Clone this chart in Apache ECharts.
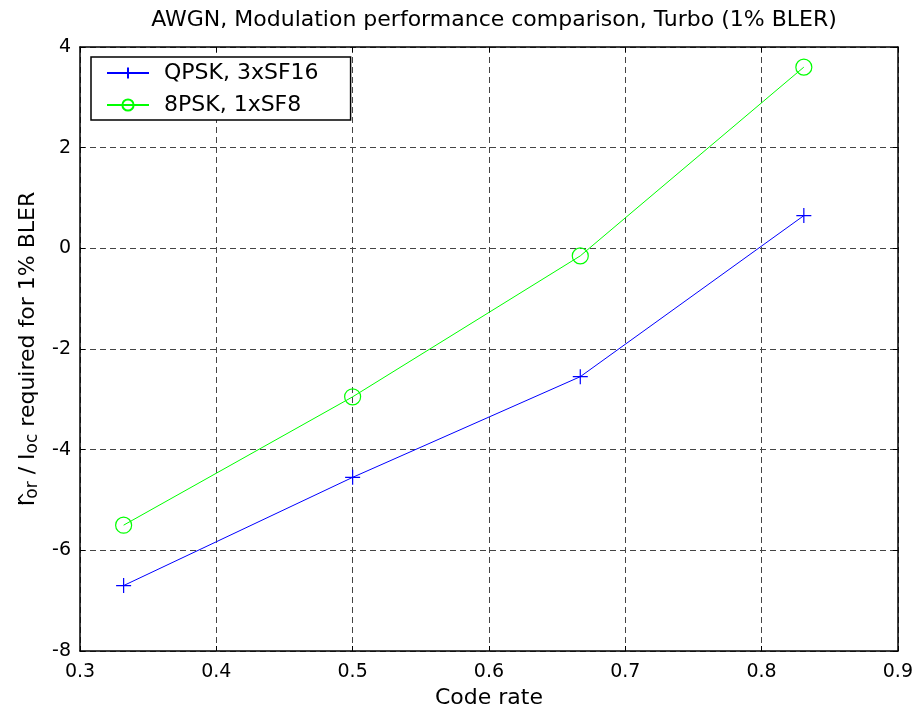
<!DOCTYPE html>
<html>
<head>
<meta charset="utf-8">
<script src="https://cdn.jsdelivr.net/npm/echarts@6/dist/echarts.min.js"></script>
<style>html,body{margin:0;padding:0;background:#fff;}#c{width:916px;height:715px;}</style>
</head>
<body>
<div id="c"></div>
<script>
var titleText = 'AWGN, Modulation performance comparison, Turbo (1% BLER)';
var xName = 'Code rate';
var seriesNames = ['QPSK, 3xSF16', '8PSK, 1xSF8'];
var codeRates = [0.332, 0.5, 0.667, 0.831];
var qpsk = [-6.7, -4.55, -2.55, 0.65];
var psk8 = [-5.5, -2.95, -0.15, 3.6];
var xMin = 0.3, xMax = 0.9, xStep = 0.1;
var yMin = -8, yMax = 4, yStep = 2;

function pairs(xs, ys) { return xs.map(function (x, i) { return [x, ys[i]]; }); }

var FONT = '"DejaVu Sans", "Liberation Sans", Arial, sans-serif';
var plusPath = 'path://M0,5L10,5M5,0L5,10';
var chart = echarts.init(document.getElementById('c'), null, { renderer: 'canvas' });
var gridLine = { show: true, lineStyle: { color: '#444', type: [6, 4], width: 1 } };
var boxLine = { show: true, onZero: false, lineStyle: { color: '#000', width: 1.5 } };
var tick = { show: true, inside: true, length: 5, lineStyle: { color: '#000' } };
chart.setOption({
  animation: false,
  backgroundColor: '#fff',
  title: {
    text: titleText, left: 489, textAlign: 'center', top: 4,
    textStyle: { fontFamily: FONT, fontSize: 22, fontWeight: 'normal', color: '#000' }
  },
  grid: { left: 80, right: 18, top: 47, bottom: 64, containLabel: false },
  legend: {
    orient: 'vertical', left: 91, top: 57,
    data: seriesNames,
    itemWidth: 42, itemHeight: 14, itemGap: 10,
    padding: [5, 32, 4, 15],
    backgroundColor: '#fff', borderColor: '#000', borderWidth: 1.5,
    textStyle: { fontFamily: FONT, fontSize: 22, lineHeight: 22, color: '#000', padding: [0, 0, 0, 10] }
  },
  xAxis: [{
    type: 'value', min: xMin, max: xMax, interval: xStep,
    name: xName, nameLocation: 'middle', nameGap: 34,
    nameTextStyle: { fontFamily: FONT, fontSize: 22, color: '#000' },
    axisLine: boxLine, axisTick: tick,
    axisLabel: { fontFamily: FONT, fontSize: 19, color: '#000', margin: 12,
      formatter: function (v) { return v.toFixed(1); } },
    splitLine: gridLine
  }, {
    type: 'value', position: 'top', min: xMin, max: xMax, interval: xStep,
    axisLine: boxLine, axisTick: tick,
    axisLabel: { show: false }, splitLine: { show: false }
  }],
  yAxis: [{
    type: 'value', min: yMin, max: yMax, interval: yStep,
    name: '{n|I}{h|^}{s|or}{n| / I}{s|oc}{n| required for 1% BLER}',
    nameLocation: 'middle', nameGap: 32, nameRotate: 90,
    nameTextStyle: {
      fontFamily: FONT, fontSize: 22, color: '#000',
      rich: {
        n: { fontFamily: FONT, fontSize: 22, color: '#000', verticalAlign: 'top', lineHeight: 24 },
        h: { fontFamily: FONT, fontSize: 18, color: '#000', verticalAlign: 'top', lineHeight: 18, width: 1 },
        s: { fontFamily: FONT, fontSize: 17, color: '#000', verticalAlign: 'bottom', lineHeight: 18, padding: [12, 0, 0, 0] }
      }
    },
    axisLine: boxLine, axisTick: tick,
    axisLabel: { fontFamily: FONT, fontSize: 19, color: '#000', margin: 9 },
    splitLine: gridLine
  }, {
    type: 'value', position: 'right', min: yMin, max: yMax, interval: yStep,
    axisLine: boxLine, axisTick: tick,
    axisLabel: { show: false }, splitLine: { show: false }
  }],
  series: [{
    name: seriesNames[0], type: 'line', xAxisIndex: 0, yAxisIndex: 0,
    data: pairs(codeRates, qpsk),
    symbol: plusPath, symbolSize: 15, showAllSymbol: true,
    lineStyle: { color: '#0000ff', width: 1 },
    itemStyle: { color: '#0000ff', borderColor: '#0000ff', borderWidth: 1.2 }
  }, {
    name: seriesNames[1], type: 'line', xAxisIndex: 0, yAxisIndex: 0,
    data: pairs(codeRates, psk8),
    symbol: 'circle', symbolSize: 16, showAllSymbol: true,
    lineStyle: { color: '#00ff00', width: 1 },
    itemStyle: { color: 'rgba(0,0,0,0)', borderColor: '#00ff00', borderWidth: 1.2 }
  }]
});
</script>
</body>
</html>
